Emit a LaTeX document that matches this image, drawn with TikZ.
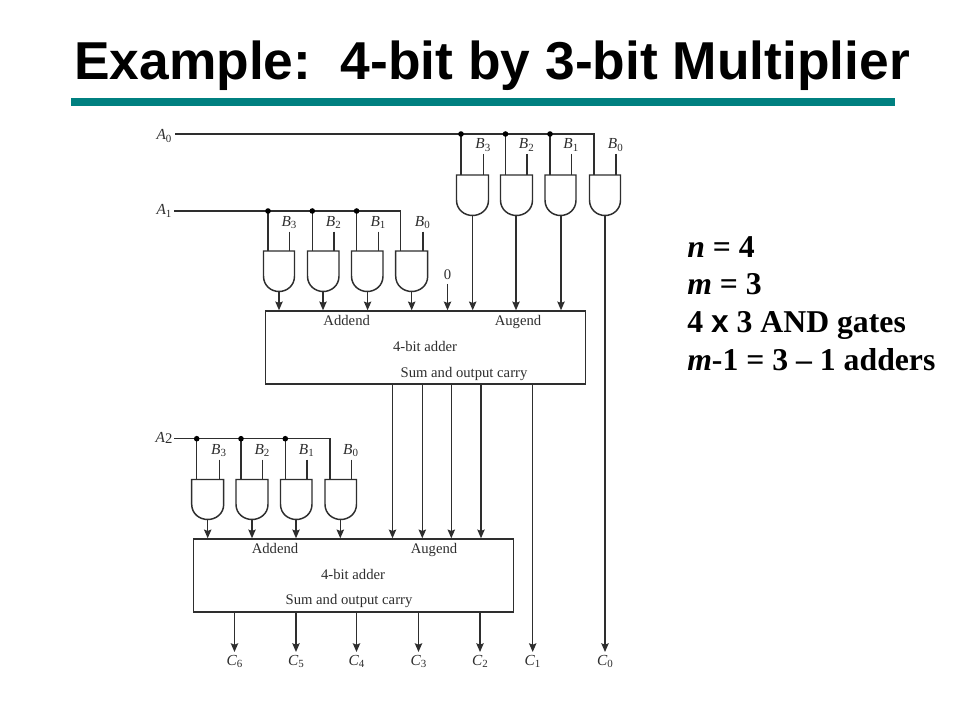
\documentclass[tikz,border=0pt]{standalone}
\usepackage{fontspec}
\setmainfont{Liberation Serif}
\newfontfamily\titlefont{Liberation Sans}
\usetikzlibrary{arrows.meta}
\definecolor{ink}{HTML}{2E2E2E}
\definecolor{barteal}{HTML}{008080}
\tikzset{
  wire/.style={draw=ink,line width=1.1pt},
  arrowwire/.style={wire,-{Stealth[length=6.5pt,width=5.5pt,inset=1pt]}},
  gatebody/.style={draw=ink,line width=1.1pt,fill=white},
  addbox/.style={draw=ink,line width=1.1pt,fill=white,rectangle,minimum width=240pt,minimum height=54.75pt,inner sep=0pt},
  lab/.style={text=ink,anchor=base,font=\fontsize{11pt}{13pt}\selectfont,inner sep=0pt},
  var/.style={text=ink,anchor=base,inner sep=0pt,font=\fontsize{11.5pt}{13pt}\selectfont\itshape},
  dotn/.style={circle,fill=black,inner sep=0pt,minimum size=4.2pt},
  side/.style={anchor=base west,inner sep=0pt,text=black,font=\fontsize{23.8pt}{27pt}\selectfont\bfseries}
}
\newcommand{\sbs}[1]{\raisebox{-1.8pt}{\fontsize{8.2pt}{9pt}\selectfont\upshape #1}}
% name, left x, top y, width, height, x of first input, x of second input, x of output
\newcommand{\andgate}[8]{%
  \draw[gatebody] (#2,#3) -- (#2+#4,#3) -- (#2+#4,#3+#5*0.62)
     .. controls (#2+#4,#3+#5*0.86) and (#2+#4*0.75,#3+#5) .. (#2+#4*0.5,#3+#5)
     .. controls (#2+#4*0.25,#3+#5) and (#2,#3+#5*0.86) .. (#2,#3+#5*0.62) -- cycle;
  \coordinate (#1a) at (#6,#3);
  \coordinate (#1b) at (#7,#3);
  \coordinate (#1o) at (#8,#3+#5);
}
\begin{document}
\begin{tikzpicture}[x=0.75pt,y=-0.75pt]
\useasboundingbox (0,0) rectangle (960,720);
\fill[white] (0,0) rectangle (960,720);
% title
\node[anchor=base west,inner sep=0pt,font=\titlefont\bfseries\fontsize{40pt}{44pt}\selectfont] (title) at (74,80) {Example:\ \ 4-bit by 3-bit Multiplier};
\fill[barteal] (71,98) rectangle (895,106);
% side notes
\node[side] (n1) at (687,257.5) {\textit{n} = 4};
\node[side] (n2) at (687,294.5) {\textit{m} = 3};
\node[side] (n3) at (687,332.5) {4 {\titlefont x} 3 AND gates};
\node[side] (n4) at (687,370.5) {\textit{m}-1 = 3 – 1 adders};
% adders
\node[addbox] (add1) at (425.25,347.5) {};
\node[addbox] (add2) at (353.5,575.5) {};
\node[lab] (add1a) at (346.7,325.5) {Addend};
\node[lab] (add1b) at (518,325.5) {Augend};
\node[lab] (add1c) at (425,351.5) {4-bit adder};
\node[lab] (add1d) at (464,377) {Sum and output carry};
\node[lab] (add2a) at (275,553) {Addend};
\node[lab] (add2b) at (434,553) {Augend};
\node[lab] (add2c) at (353,579.5) {4-bit adder};
\node[lab] (add2d) at (349,604.5) {Sum and output carry};
% gates
\andgate{t3}{456.5}{175}{32}{40.5}{461}{483.5}{472.7}
\andgate{t2}{500.5}{175}{32}{40.5}{505.5}{527}{516}
\andgate{t1}{545}{175}{31}{40.5}{550}{571.5}{561}
\andgate{t0}{589.5}{175}{31}{40.5}{594}{616}{605}
\andgate{m3}{263.5}{251}{31}{40.5}{268}{289.7}{279}
\andgate{m2}{307.5}{251}{31.5}{40.5}{312.3}{334}{323}
\andgate{m1}{351.5}{251}{31.5}{40.5}{356.6}{378.6}{367.6}
\andgate{m0}{395.7}{251}{32}{40.5}{400.3}{423}{411.7}
\andgate{b3}{191.7}{479.5}{32}{40}{196.7}{219.3}{207.7}
\andgate{b2}{236}{479.5}{32}{40}{241}{262.7}{252}
\andgate{b1}{280.5}{479.5}{31.5}{40}{285.3}{307}{296}
\andgate{b0}{325}{479.5}{31.5}{40}{330}{351.3}{340.3}
% select lines
\node[var] (A0) at (164,140) {A\sbs{0}};
\node[var] (A1) at (164,215) {A\sbs{1}};
\node[var] (A2) at (164,442.5) {A\raisebox{-0.5pt}{\fontsize{11pt}{12pt}\selectfont\upshape 2}};
\coordinate (d03) at (461,134);
\coordinate (d02) at (505.5,134);
\coordinate (d01) at (550,134);
\coordinate (d00) at (594,134);
\coordinate (d13) at (268,211);
\coordinate (d12) at (312.3,211);
\coordinate (d11) at (356.6,211);
\coordinate (d10) at (400.3,211);
\coordinate (d23) at (196.7,438.7);
\coordinate (d22) at (241,438.7);
\coordinate (d21) at (285.3,438.7);
\coordinate (d20) at (330,438.7);
\coordinate (w0) at (175,134);
\coordinate (w1) at (174,211);
\coordinate (w2) at (174,438.7);
\draw[wire] (w0) -- (d00) -- (t0a);
\draw[wire] (w1) -- (d10) -- (m0a);
\draw[wire] (w2) -- (d20) -- (b0a);
\foreach \j/\g in {d03/t3,d02/t2,d01/t1,d13/m3,d12/m2,d11/m1,d23/b3,d22/b2,d21/b1}{
  \draw[wire] (\j) -- (\g a);
  \node[dotn] at (\j) {};
}
% B inputs
\foreach \g/\ytop/\t in {t3/154/3,t2/154/2,t1/154/1,t0/154/0,m3/231.7/3,m2/231.7/2,m1/231.7/1,m0/231.7/0,b3/459.5/3,b2/459.5/2,b1/459.5/1,b0/459.5/0}{
  \coordinate (\g t) at (\g b |- 0,\ytop);
  \draw[wire] (\g t) -- (\g b);
  \node[var] at ([xshift=-0.5pt,yshift=4pt]\g t) {B\sbs{\t}};
}
% gate outputs
\foreach \g in {m3,m2,m1,m0}{\draw[arrowwire] (\g o) -- (\g o |- add1.north);}
\foreach \g in {t3,t2,t1}{\draw[arrowwire] (\g o) -- (\g o |- add1.north);}
\foreach \g in {b3,b2,b1,b0}{\draw[arrowwire] (\g o) -- (\g o |- add2.north);}
\node[lab] (zero) at (447.5,279.5) {0};
\coordinate (zs) at (447.5,284);
\draw[arrowwire] (zs) -- (zs |- add1.north);
% between the adders
\foreach \n/\x in {a/392.5,b/422.3,c/451.3,d/481}{
  \coordinate (s\n) at (\x,384);
  \draw[arrowwire] (s\n) -- (s\n |- add2.north);
}
% outputs
\foreach \x/\t in {234.5/6,296/5,356.5/4,418.5/3,480/2}{
  \node[var] (C\t) at (\x,665) {C\sbs{\t}};
  \coordinate (o\t) at (\x,612);
  \coordinate (e\t) at (\x,652);
  \draw[arrowwire] (o\t) -- (e\t);
}
\node[var] (C1) at (532.5,665) {C\sbs{1}};
\node[var] (C0) at (605,665) {C\sbs{0}};
\coordinate (o1) at (532.7,384);
\coordinate (e1) at (532.7,652);
\draw[arrowwire] (o1) -- (e1);
\coordinate (e0) at (605,652);
\draw[arrowwire] (t0o) -- (e0);
\end{tikzpicture}
\end{document}
